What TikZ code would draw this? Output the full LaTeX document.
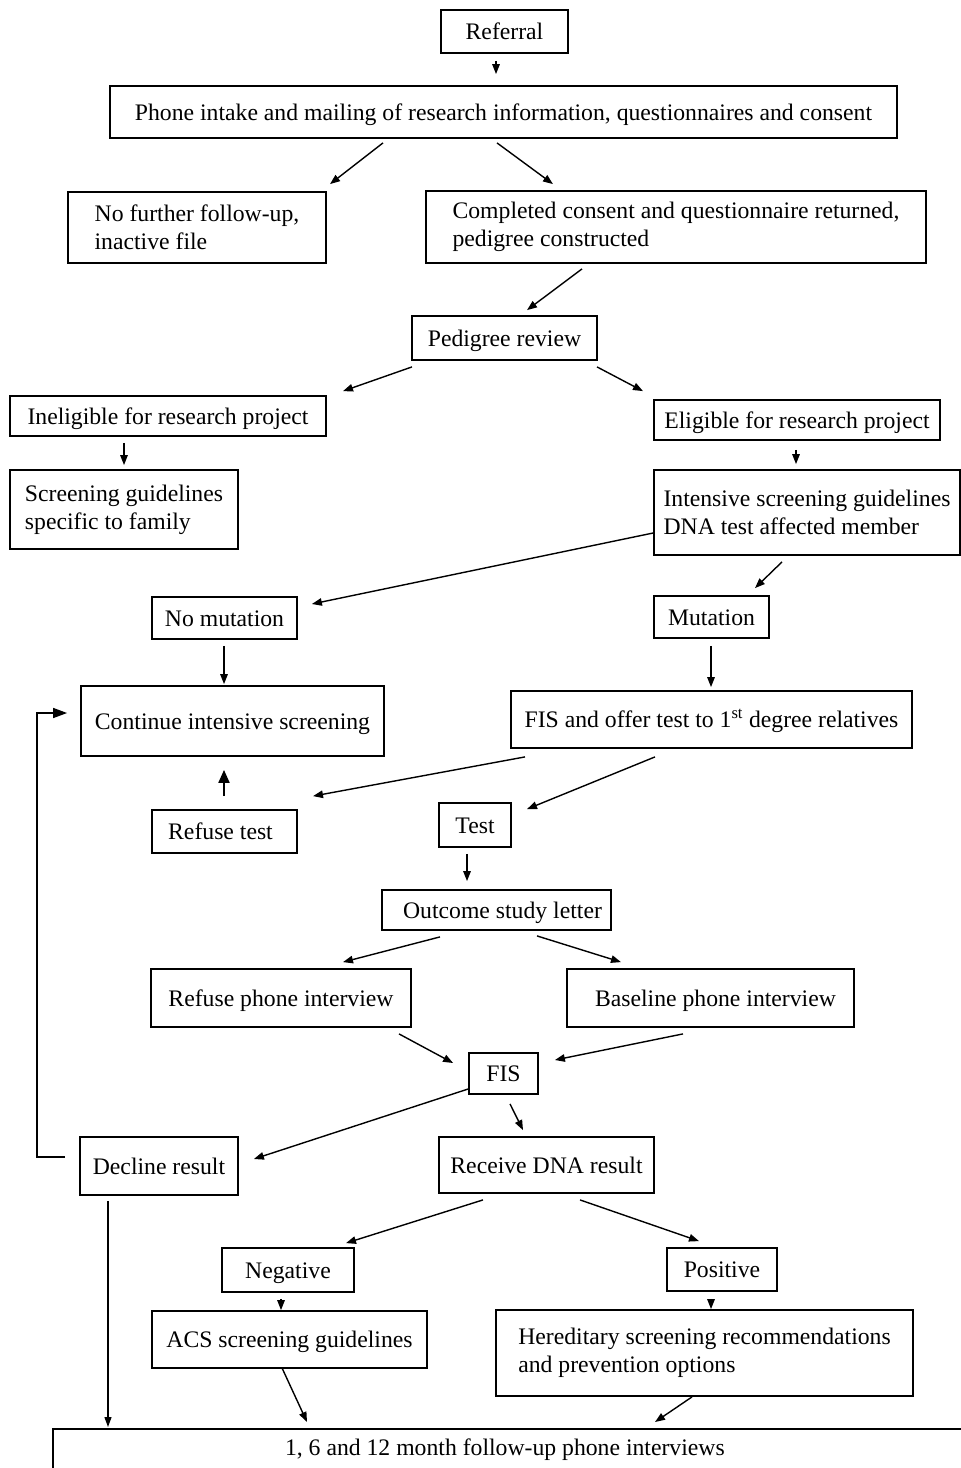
\documentclass[tikz,border=0pt]{standalone}
\usepackage{fontspec}
\setmainfont{Liberation Serif}
\usetikzlibrary{arrows.meta,calc}
\begin{document}
\begin{tikzpicture}[x=1pt,y=1pt,
  box/.style={draw, line width=1.8pt, inner sep=0pt, align=left, font=\fontsize{23.7}{28}\selectfont},
  one/.style={text height=20pt, text depth=4pt},
  arr/.style={line width=1.4pt, -{Triangle[length=10pt,width=7.5pt]}},
  bigarr/.style={line width=2pt, -{Triangle[length=13pt,width=11pt]}},
]
\useasboundingbox (0,0) rectangle (961,-1468);
\clip (0,0) rectangle (961,-1468);

% nodes
\node[box, one, minimum width=127, minimum height=43] (ref) at (504.5,-31.5) {Referral};
\node[box, one, minimum width=787, minimum height=52] (phone) at (503.5,-112) {Phone intake and mailing of research information, questionnaires and consent};
\node[box, minimum width=258, minimum height=71] (nf) at (197,-227.5) {No further follow-up,\\inactive file};
\node[box, minimum width=500, minimum height=72] (cc) at (676,-227) {Completed consent and questionnaire returned,\\pedigree constructed};
\node[box, one, minimum width=185, minimum height=44] (ped) at (504.5,-338) {Pedigree review};
\node[box, one, minimum width=316, minimum height=40] (inel) at (168,-416) {Ineligible for research project};
\node[box, one, minimum width=286, minimum height=40] (elig) at (797,-420) {Eligible for research project};
\node[box, minimum width=228, minimum height=79] (sg) at (124,-509.5) {Screening guidelines\\specific to family};
\node[box, minimum width=306, minimum height=85] (isg) at (807,-512.5) {Intensive screening guidelines\\DNA test affected member};
\node[box, one, minimum width=145, minimum height=42] (nomut) at (224.5,-618) {No mutation};
\node[box, one, minimum width=115, minimum height=42] (mut) at (711.5,-617) {Mutation};
\node[box, one, minimum width=303, minimum height=70] (cis) at (232.5,-721) {Continue intensive screening};
\node[box, one, minimum width=401, minimum height=57] (fis1) at (711.5,-719.5) {FIS and offer test to 1\textsuperscript{st} degree relatives};
\node[box, one, minimum width=145, minimum height=43] (reft) at (224.5,-831.5) {Refuse test\hspace*{8pt}};
\node[box, one, minimum width=72, minimum height=44] (test) at (475,-825) {Test};
\node[box, one, minimum width=229, minimum height=40] (osl) at (496.5,-910) {\hspace*{12pt}Outcome study letter};
\node[box, one, minimum width=260, minimum height=58] (rpi) at (281,-998) {Refuse phone interview};
\node[box, one, minimum width=287, minimum height=58] (bpi) at (710.5,-998) {\hspace*{10pt}Baseline phone interview};
\node[box, one, minimum width=69, minimum height=41] (fis2) at (503.5,-1073.5) {FIS};
\node[box, one, minimum width=158, minimum height=58] (dec) at (159,-1166) {Decline result};
\node[box, one, minimum width=215, minimum height=56] (rdna) at (546.5,-1165) {Receive DNA result};
\node[box, one, minimum width=132, minimum height=44] (neg) at (288,-1270) {Negative};
\node[box, one, minimum width=110, minimum height=43] (pos) at (722,-1269.5) {Positive};
\node[box, one, minimum width=275, minimum height=57] (acs) at (289.5,-1339.5) {ACS screening guidelines};
\node[box, minimum width=417, minimum height=86] (her) at (704.5,-1353) {Hereditary screening recommendations\\and prevention options};
\node[box, anchor=north west, inner xsep=0pt, inner ysep=10pt, text depth=60pt] (fu) at (52,-1428)
  {\makebox[904pt]{1, 6 and 12 month follow-up phone interviews}\hspace*{80pt}};

% connectors
\draw[arr] ($(ref.south -| 496,0)+(0,-7)$) -- ($(phone.north -| 496,0)+(0,11)$);
\draw[arr] ($(phone.south -| 383,0)+(0,-4)$) -- ($(nf.north -| 330,0)+(0,7)$);
\draw[arr] ($(phone.south -| 497,0)+(0,-4)$) -- ($(cc.north -| 553,0)+(0,6)$);
\draw[arr] ($(cc.south -| 582,0)+(0,-5)$) -- ($(ped.north -| 527,0)+(0,5)$);
\draw[arr] ($(ped.south -| 412,0)+(0,-6)$) -- ($(inel.north -| 343,0)+(0,4)$);
\draw[arr] ($(ped.south -| 597,0)+(0,-6)$) -- ($(elig.north -| 643,0)+(0,8)$);
\draw[arr] ($(inel.south -| 124,0)+(0,-6)$) -- ($(sg.north -| 124,0)+(0,4)$);
\draw[arr] ($(elig.south -| 796,0)+(0,-9)$) -- ($(isg.north -| 796,0)+(0,5)$);
\draw[arr] (isg.west |- 0,-533) -- ($(nomut.east |- 0,-604)+(14,0)$);
\draw[arr] ($(isg.south -| 782,0)+(0,-6)$) -- ($(mut.north -| 755,0)+(0,7)$);
\draw[arr] ($(nomut.south -| 224,0)+(0,-6)$) -- ($(cis.north -| 224,0)+(0,1)$);
\draw[arr] ($(mut.south -| 711,0)+(0,-7)$) -- ($(fis1.north -| 711,0)+(0,3)$);
\draw[arr] ($(fis1.south -| 525,0)+(0,-8)$) -- ($(reft.north -| 313,0)+(0,13)$);
\draw[arr] ($(fis1.south -| 655,0)+(0,-8)$) -- ($(test.north -| 527,0)+(0,-7)$);
\draw[bigarr] ($(reft.north -| 224,0)+(0,13)$) -- ($(cis.south -| 224,0)+(0,-13)$);
\draw[arr] ($(test.south -| 467,0)+(0,-6)$) -- ($(osl.north -| 467,0)+(0,8)$);
\draw[arr] ($(osl.south -| 440,0)+(0,-6)$) -- ($(rpi.north -| 343,0)+(0,6)$);
\draw[arr] ($(osl.south -| 537,0)+(0,-5)$) -- ($(bpi.north -| 621,0)+(0,6)$);
\draw[arr] ($(rpi.south -| 399,0)+(0,-6)$) -- ($(fis2.west |- 0,-1063)+(-15,0)$);
\draw[arr] ($(bpi.south -| 683,0)+(0,-6)$) -- ($(fis2.east |- 0,-1060)+(16,0)$);
\draw[arr] ($(fis2.west |- 0,-1089)$) -- ($(dec.east |- 0,-1159)+(15,0)$);
\draw[arr] ($(fis2.south -| 510,0)+(0,-9)$) -- ($(rdna.north -| 523,0)+(0,6)$);
\draw[line width=1.4pt, -{Triangle[length=14pt,width=10pt]}] ($(dec.west |- 0,-1157)+(-14,0)$) -- ++(-28,0) |- ($(cis.west |- 0,-713)+(-13,0)$);
\draw[line width=1.2pt, -{Triangle[length=10pt,width=7pt]}] ($(dec.south -| 108,0)+(0,-5)$) -- ($(fu.north -| 108,0)+(0,1)$);
\draw[arr] ($(rdna.south -| 483,0)+(0,-6)$) -- ($(neg.north -| 346,0)+(0,4)$);
\draw[arr] ($(rdna.south -| 580,0)+(0,-6)$) -- ($(pos.north -| 699,0)+(0,6)$);
\draw[arr] ($(neg.south -| 281,0)+(0,-6)$) -- (acs.north -| 281,0);
\draw[arr] ($(pos.south -| 711,0)+(0,-7)$) -- (her.north -| 711,0);
\draw[arr] ($(acs.south -| 282,0)+(0,1)$) -- ($(fu.north -| 307,0)+(0,6)$);
\draw[arr] (her.south -| 692,0) -- ($(fu.north -| 655,0)+(0,6)$);
\end{tikzpicture}
\end{document}
